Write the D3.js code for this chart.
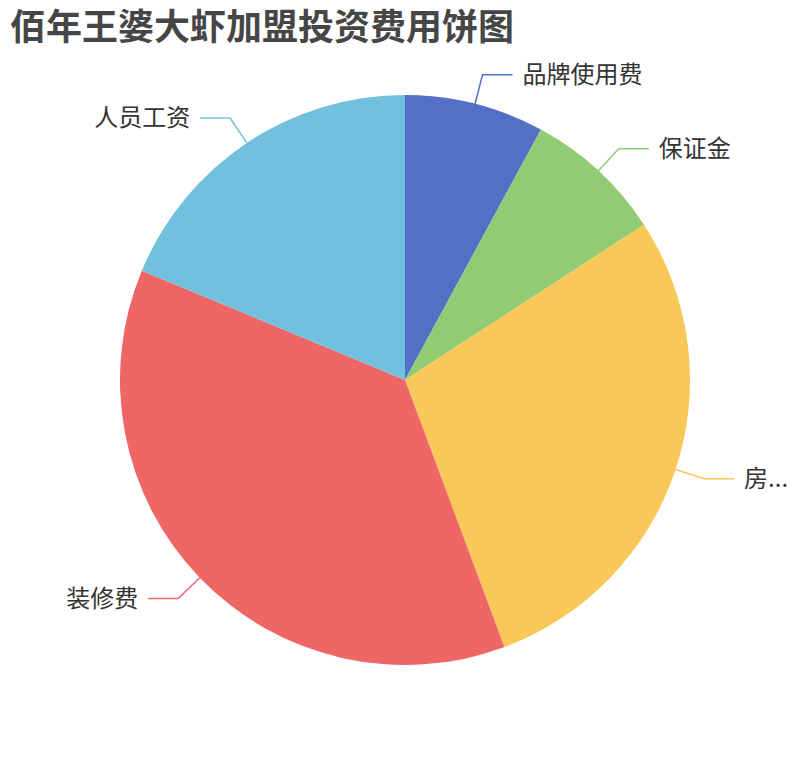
<html>
<head>
<meta charset="utf-8">
<script src="https://cdnjs.cloudflare.com/ajax/libs/d3/7.8.5/d3.min.js"></script>
<style>
  body { margin: 0; background: #fff; }
  svg { display: block; font-family: "Noto Sans CJK SC", "Noto Sans", sans-serif; }
</style>
</head>
<body>
<svg id="chart" width="810" height="760"></svg>
<script>
// investment items and amounts
var categories = ["品牌使用费", "保证金", "房租", "装修费", "人员工资"];
var values = [3, 3, 10.8, 14, 7.1];
var colors = ["#5470c6", "#91cc75", "#fac858", "#ee6666", "#73c0de"];

var W = 810, H = 760;
var cx = 405, cy = 380, R = 285;

var svg = d3.select("#chart");

svg.append("text")
  .attr("x", 10)
  .attr("y", 39.5)
  .style("font-size", "36px")
  .style("font-weight", "bold")
  .style("fill", "#464646")
  .text("佰年王婆大虾加盟投资费用饼图");

var rows = categories.map(function (c, i) { return { name: c, value: values[i], color: colors[i] }; });

var pie = d3.pie().sort(null).value(function (d) { return d.value; });
var arcs = pie(rows);

var arc = d3.arc().innerRadius(0).outerRadius(R);
var edge = d3.arc().innerRadius(R).outerRadius(R);
var outer = d3.arc().innerRadius(R + 30).outerRadius(R + 30);

var g = svg.append("g").attr("transform", "translate(" + cx + "," + cy + ")");

g.selectAll("path.slice")
  .data(arcs)
  .enter()
  .append("path")
  .attr("class", "slice")
  .attr("d", arc)
  .style("fill", function (d) { return d.data.color; });

// leader lines + labels
arcs.forEach(function (d) {
  var mid = (d.startAngle + d.endAngle) / 2;
  var right = mid < Math.PI;
  var p1 = edge.centroid(d);
  var p2 = outer.centroid(d);
  var p3 = [p2[0] + (right ? 30 : -30), p2[1]];

  g.append("polyline")
    .attr("points", [p1, p2, p3].map(function (p) { return p.join(","); }).join(" "))
    .style("fill", "none")
    .style("stroke", d.data.color)
    .style("stroke-width", 1.5);

  var tx = p3[0] + (right ? 10 : -10);
  var t = g.append("text")
    .attr("x", tx)
    .attr("y", p3[1])
    .attr("dy", "0.35em")
    .attr("text-anchor", right ? "start" : "end")
    .style("font-size", "24px")
    .style("fill", "#333")
    .text(d.data.name);

  // clip labels running past the right border, as the chart does
  if (right) {
    var room = W - (cx + tx) - 30;
    var s = d.data.name;
    while (s.length > 1 && t.node().getComputedTextLength() > room) {
      s = s.slice(0, -1);
      t.text(s + "...");
    }
  }
});
</script>
</body>
</html>
